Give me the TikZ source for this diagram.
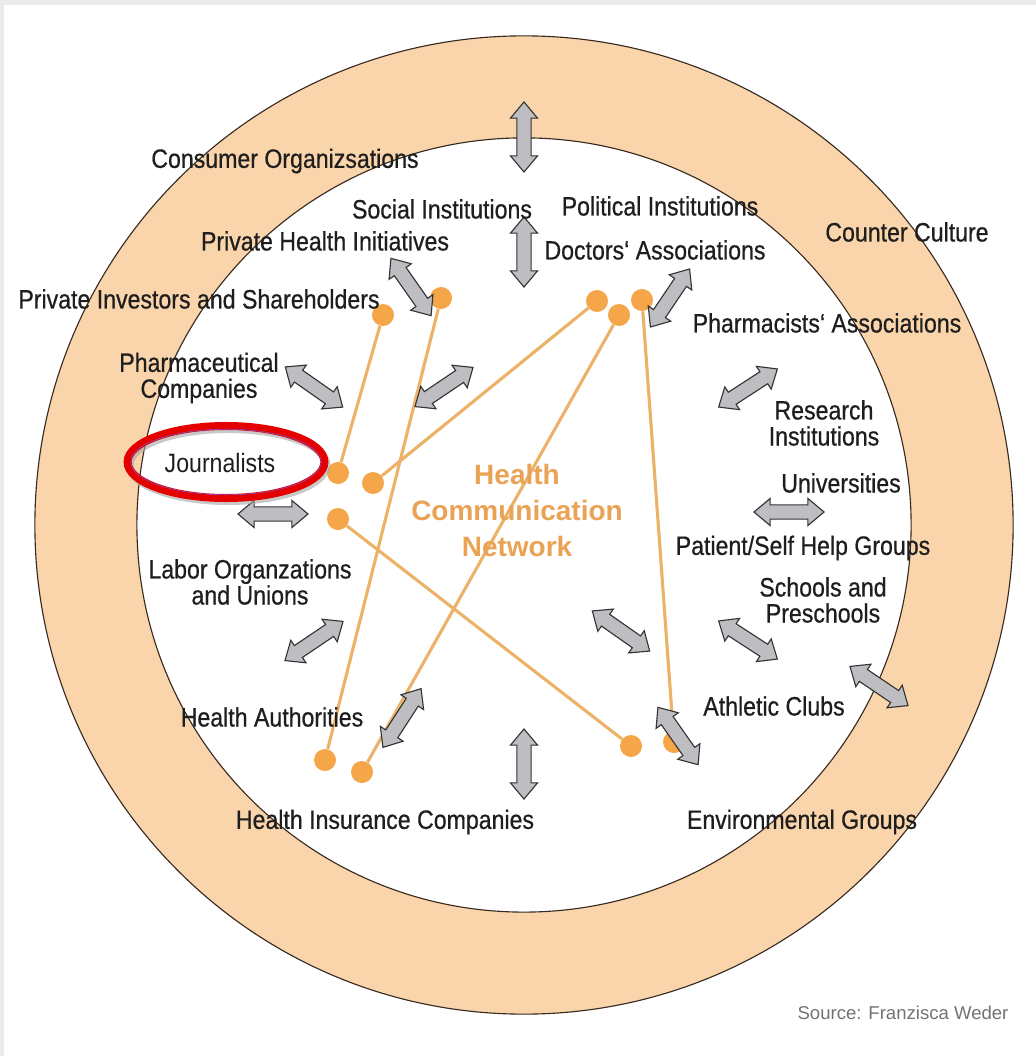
\documentclass[tikz,border=0pt]{standalone}
\usepackage{fontspec}
\setmainfont[FakeStretch=0.87, FakeBold=0.6]{Liberation Sans}
\newfontfamily\widesans{Liberation Sans}
\usetikzlibrary{shapes.arrows}
\definecolor{ringfill}{RGB}{250,213,171}
\definecolor{ringline}{RGB}{55,42,32}
\definecolor{dotorange}{RGB}{245,166,72}
\definecolor{linktan}{RGB}{236,178,104}
\definecolor{hcnorange}{RGB}{234,163,84}
\definecolor{arrowgray}{RGB}{190,190,194}
\definecolor{labelgray}{RGB}{30,30,30}
\tikzset{
    group/.style={ % labels of the groups
        text=labelgray,
        font=\fontsize{18.9}{18.5}\selectfont,
        align=center,
        inner sep=0pt
    },
    actor/.style={ % orange points of the network
        circle,
        fill=dotorange,
        minimum size=0.55cm,
        inner sep=0pt
    },
    link/.style={draw=linktan, line width=2.2pt},
    twoway/.style={ % grey double arrows, #1 = angle
        double arrow,
        draw=black!80,
        fill=arrowgray,
        thick,
        minimum height=1.75cm,
        inner xsep=0pt,
        inner ysep=0.165cm,
        double arrow head extend=0.16cm,
        double arrow tip angle=80,
        rotate=#1
    },
    twoway/.default=0
}

\begin{document}
\begin{tikzpicture}[x=0.025cm, y=-0.025cm]
    \useasboundingbox (0,0) rectangle (1036,1056);
    \fill[black!8] (0,0) rectangle (1036,1056);
    \fill[white] (4,5) rectangle (1036,1056);

    % ring
    \fill[ringfill, even odd rule] (524,525) circle[radius=12.225cm]
                                   (524,525) circle[radius=9.675cm];
    \draw[ringline, thick] (524,525) circle[radius=12.225cm];
    \draw[ringline, thick] (524,525) circle[radius=9.675cm];

    % network points
    \node[actor] (pInvest)     at (383,315) {};
    \node[actor] (pPrivHealth) at (441,298) {};
    \node[actor] (pDoc1)       at (597,301) {};
    \node[actor] (pDoc2)       at (619,315) {};
    \node[actor] (pDoc3)       at (642,300) {};
    \node[actor] (pJour1)      at (338,473) {};
    \node[actor] (pJour2)      at (373,483) {};
    \node[actor] (pJour3)      at (338,519) {};
    \node[actor] (pAuth)       at (325,760) {};
    \node[actor] (pInsur)      at (362,772) {};
    \node[actor] (pEnv1)       at (631,746) {};
    \node[actor] (pEnv2)       at (674,742) {};

    \draw[link]
            (pInvest)     edge (pJour1)
            (pPrivHealth) edge (pAuth)
            (pDoc1)       edge (pJour2)
            (pDoc2)       edge (pInsur)
            (pDoc3)       edge (pEnv2)
            (pJour3)      edge (pEnv1)
    ;

    % centre
    \node[text=hcnorange, align=center,
          font=\widesans\bfseries\fontsize{19.9}{25.6}\selectfont]
                                   (hcn)          at (517,510) {Health\\Communication\\Network};

    % double arrows
    \node[twoway=90]  (aTop)       at (524,137) {};
    \node[twoway=90]  (aSocial)    at (524,252) {};
    \node[twoway=-55] (aPrivHealth) at (411,287) {};
    \node[twoway=56]  (aDoctors)   at (670,298) {};
    \node[twoway=-35] (aPharma)    at (314,387) {};
    \node[twoway=34]  (aUpperLeft) at (444,387) {};
    \node[twoway=33]  (aResearch)  at (748,388) {};
    \node[twoway]     (aJournal)   at (273,514) {};
    \node[twoway]     (aUniv)      at (789,512) {};
    \node[twoway=34]  (aLabor)     at (314,641) {};
    \node[twoway=-35] (aLowerRight) at (621,631) {};
    \node[twoway=-33] (aSchools)   at (748,640) {};
    \node[twoway=-34] (aCounter)   at (879,686) {};
    \node[twoway=57]  (aInsur)     at (402,718) {};
    \node[twoway=90]  (aBottom)    at (524,764) {};
    \node[twoway=-55] (aAthletic)  at (678,736) {};

    % groups, top
    \node[group] (consumer)    at (285,161) {Consumer Organizsations};
    \node[group] (social)      at (442,209) {Social Institutions};
    \node[group] (political)   at (660,206) {Political Institutions};
    \node[group] (privhealth)  at (325,241) {Private Health Initiatives};
    \node[group] (doctors)     at (655,250) {Doctors‘ Associations};
    \node[group] (counter)     at (907,232) {Counter Culture};
    % groups, left
    \node[group] (investors)   at (199,299) {Private Investors and Shareholders};
    \node[group] (pharma)      at (199,378) {Pharmaceutical\\Companies};
    \node[group, font=\fontsize{18.9}{18.5}\selectfont\addfontfeature{FakeBold=0}]
                 (journalists) at (220,463) {Journalists};
    \node[group] (labor)       at (250,582) {Labor Organzations\\and Unions};
    \node[group] (authorities) at (272,717) {Health Authorities};
    % groups, right
    \node[group] (pharmacists) at (827,323) {Pharmacists‘ Associations};
    \node[group] (research)    at (824,423) {Research\\Institutions};
    \node[group] (universities) at (841,483) {Universities};
    \node[group] (patients)    at (803,548) {Patient/Self Help Groups};
    \node[group] (schools)     at (823,600) {Schools and\\Preschools};
    \node[group] (athletic)    at (774,706) {Athletic Clubs};
    % groups, bottom
    \node[group] (insurance)   at (385,822) {Health Insurance Companies};
    \node[group] (environment) at (802,822) {Environmental Groups};

    % highlight
    \draw[black!35, line width=0.2cm, opacity=0.6] (journalists.center) ++(8,2)
            ellipse[x radius=2.46cm, y radius=0.9cm];
    \draw[red!90!black, line width=0.2cm] (journalists.center) ++(6,-1)
            ellipse[x radius=2.46cm, y radius=0.9cm];
    \draw[blue!60, line width=0.3pt] (journalists.center) ++(6,-1)
            ellipse[x radius=2.38cm, y radius=0.82cm];

    \node[text=black!55, font=\widesans\fontsize{13.2}{14}\selectfont]
                                   (source)       at (903,1013) {Source: Franzisca Weder};
\end{tikzpicture}
\end{document}
